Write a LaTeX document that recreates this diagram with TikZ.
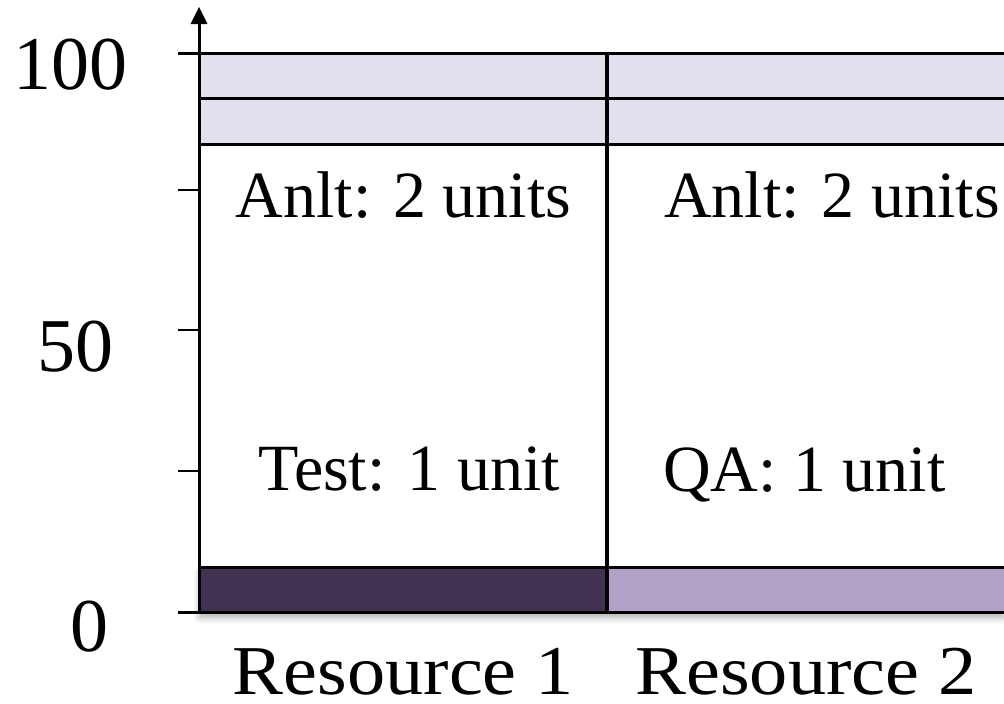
\documentclass[tikz,border=0pt]{standalone}
\usepackage{fontspec}
\setmainfont{Liberation Serif}
\newfontfamily\colfont[FakeStretch=1.09]{Liberation Serif}
\usetikzlibrary{arrows.meta,shadows.blur}
\definecolor{bandfill}{HTML}{E4DFEC}
\definecolor{darkfill}{HTML}{413253}
\definecolor{lightfill}{HTML}{B1A1C7}
\tikzset{
  rule/.style={line width=3pt, black},
  axislabel/.style={anchor=base, inner sep=0pt, font=\fontsize{76}{80}\selectfont},
  cell/.style={anchor=base, inner sep=0pt, font=\fontsize{66}{70}\selectfont},
  colname/.style={anchor=base, inner sep=0pt, text depth=0pt, font=\colfont\fontsize{70}{74}\selectfont},
}
\begin{document}
\begin{tikzpicture}[x=1pt, y=-1pt]
\useasboundingbox (0,0) rectangle (1004,704);

% soft shadow under the bottom bar
\path[blur shadow={shadow xshift=0pt, shadow yshift=-6pt, shadow blur radius=6pt, shadow opacity=30}]
  (199,567) rectangle (1004,612);
\fill[white] (199,144) rectangle (1004,612);

% fills
\fill[bandfill] (199,53) rectangle (1004,144);
\fill[darkfill] (199,567) rectangle (607,612);
\fill[lightfill] (607,567) rectangle (1004,612);

% horizontal rules
\draw[rule] (178,53) -- (1004,53);
\draw[rule] (199,98) -- (1004,98);
\draw[rule] (199,144) -- (1004,144);
\draw[rule] (199,567) -- (1004,567);
\draw[rule] (178,612) -- (1004,612);

% divider between the two resources
\draw[line width=3.5pt] (607,53) -- (607,612);

% y axis with ticks
\coordinate (axisfoot) at (199,612);
\coordinate (axistop) at (199,7);
\draw[rule] (axisfoot) -- (199,20);
\fill (axistop) -- (190.5,24) -- (207.5,24) -- cycle;
\foreach \yy in {190,330,471}
  \draw[line width=2pt] (178,\yy) -- (199,\yy);

% axis labels
\node[axislabel] (l100) at (70,89) {100};
\node[axislabel] (l50) at (75.5,371) {50};
\node[axislabel] (l0) at (89.5,651) {0};

% cell labels
\node[cell] (a1) at (403.5,217) {Anlt: 2 units};
\node[cell] (a2) at (832,217) {Anlt: 2 units};
\node[cell] (t1) at (409,490) {Test: 1 unit};
\node[cell] (q2) at (804.5,491) {QA: 1 unit};

% column names
\node[colname] (r1) at (403.5,694) {Resource 1};
\node[colname] (r2) at (806,694) {Resource 2};
\end{tikzpicture}
\end{document}
